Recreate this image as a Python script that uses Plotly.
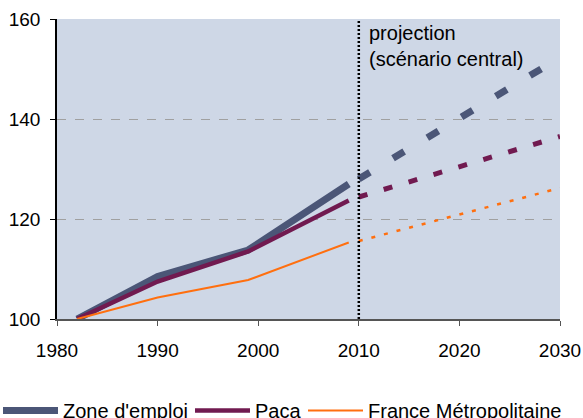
import plotly.graph_objects as go

# Observed data (index, base 100 in 1982)
years_obs = [1982, 1990, 1999, 2009]
zone_obs = [100, 108.5, 113.8, 127.0]
paca_obs = [100, 107.5, 113.5, 123.7]
france_obs = [100, 104.3, 107.8, 115.3]

# Projection (central scenario)
years_proj = [2010, 2020, 2030]
zone_proj = [128.0, 140.1, 152.3]
paca_proj = [124.4, 130.5, 136.5]
france_proj = [115.6, 120.9, 126.2]

x_ticks = [1980, 1990, 2000, 2010, 2020, 2030]
y_ticks = [100, 120, 140, 160]

c_zone = "#4B5677"
c_paca = "#711A50"
c_france = "#FF6F0F"
font = "Liberation Sans, Arial, sans-serif"

fig = go.Figure()
fig.add_trace(go.Scatter(x=years_obs, y=zone_obs, mode="lines", name="Zone d'emploi",
                         line=dict(color=c_zone, width=7), legend="legend"))
fig.add_trace(go.Scatter(x=years_obs, y=paca_obs, mode="lines", name="Paca",
                         line=dict(color=c_paca, width=4.5), legend="legend2"))
fig.add_trace(go.Scatter(x=years_obs, y=france_obs, mode="lines", name="France Métropolitaine",
                         line=dict(color=c_france, width=2), legend="legend3"))
fig.add_trace(go.Scatter(x=years_proj, y=zone_proj, mode="lines", showlegend=False,
                         line=dict(color=c_zone, width=7, dash="13px,27px")))
fig.add_trace(go.Scatter(x=years_proj, y=paca_proj, mode="lines", showlegend=False,
                         line=dict(color=c_paca, width=5, dash="9px,17px")))
fig.add_trace(go.Scatter(x=years_proj, y=france_proj, mode="lines", showlegend=False,
                         line=dict(color=c_france, width=2.5, dash="4px,9px")))

fig.add_shape(type="line", x0=2010, x1=2010, y0=0, y1=1, xref="x", yref="paper",
              line=dict(color="black", width=2.5, dash="2px,2px"))

fig.add_annotation(x=2010.85, y=159.9, xref="x", yref="y", xanchor="left", yanchor="top",
                   align="left", showarrow=False,
                   text="projection<br>(scénario central)",
                   font=dict(family=font, size=20, color="black"))

PW = 503.0  # plot width in px, for placing the legends in paper units
leg_common = dict(orientation="h", xanchor="left", y=-0.305, yanchor="middle",
                  font=dict(family=font, size=20, color="black"), itemwidth=55,
                  bgcolor="rgba(0,0,0,0)", borderwidth=0)

fig.update_layout(
    width=583, height=418,
    margin=dict(l=57, r=23, t=19, b=99, autoexpand=False),
    paper_bgcolor="white",
    plot_bgcolor="#CED7E6",
    font=dict(family=font, size=20, color="black"),
    showlegend=True,
    legend=dict(x=(-2 - 57) / PW, **leg_common),
    legend2=dict(x=(190 - 57) / PW, **leg_common),
    legend3=dict(x=(303 - 57) / PW, **leg_common),
)
fig.update_xaxes(range=[1980, 2030], tickvals=x_ticks, showgrid=False, zeroline=False,
                 showline=True, linecolor="#555555", linewidth=1.5,
                 ticks="outside", ticklen=5, tickcolor="#555555", automargin=False,
                 tickfont=dict(size=19), ticklabelstandoff=8)
fig.update_yaxes(range=[100, 160], tickvals=y_ticks, showgrid=True, gridcolor="#A0A0A0",
                 griddash="dash", gridwidth=1, zeroline=False,
                 showline=True, linecolor="black", linewidth=1.5, automargin=False,
                 ticks="outside", ticklen=5, tickcolor="black",
                 tickfont=dict(size=19), ticklabelstandoff=6)

fig.write_html("out.html", config={"displayModeBar": False},
               post_script="document.body.style.margin='0';"
                           "document.documentElement.style.overflow='hidden';")
